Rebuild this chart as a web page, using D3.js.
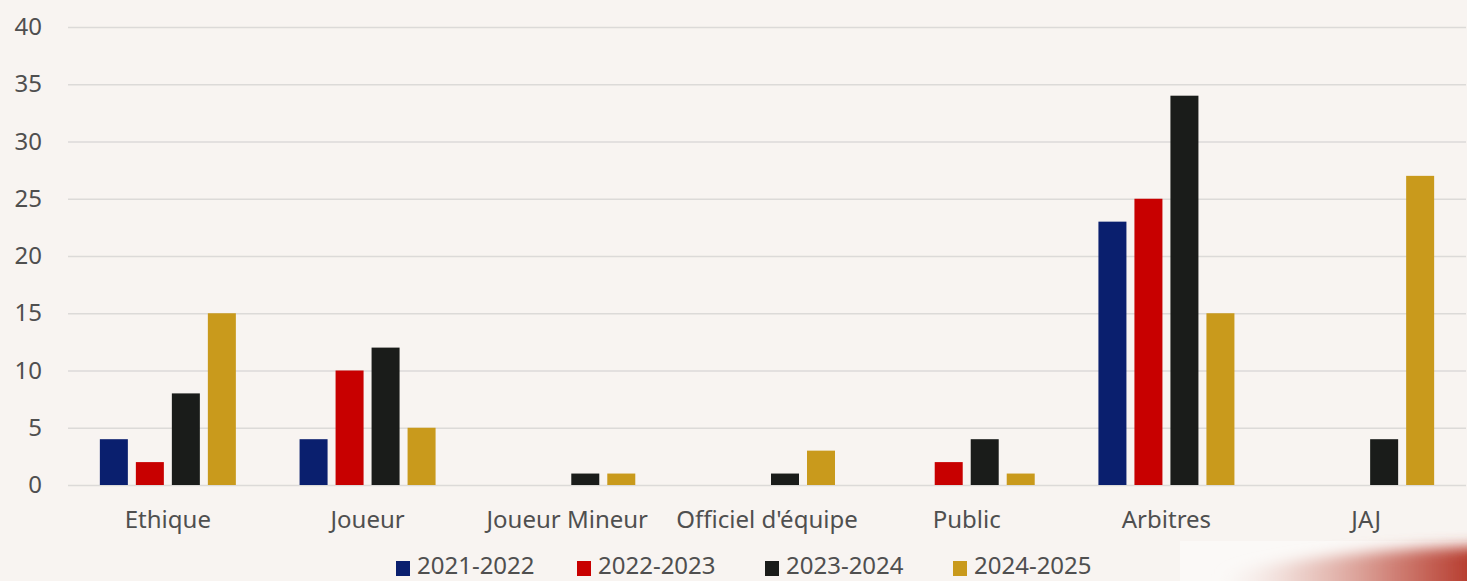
<!DOCTYPE html>
<html>
<head>
<meta charset="utf-8">
<script src="https://cdn.jsdelivr.net/npm/d3@7"></script>
<style>
  body { margin: 0; background: #f8f4f1; }
  svg { display: block; font-family: "Noto Sans", "Open Sans", sans-serif; }
</style>
</head>
<body>
<svg id="chart" width="1467" height="581"></svg>
<script>
// Chart data
const categories = ['Ethique', 'Joueur', 'Joueur Mineur', "Officiel d'équipe", 'Public', 'Arbitres', 'JAJ'];
const seasons = ['2021-2022', '2022-2023', '2023-2024', '2024-2025'];
const values2122 = [4, 4, 0, 0, 0, 23, 0];
const values2223 = [2, 10, 0, 0, 2, 25, 0];
const values2324 = [8, 12, 1, 1, 4, 34, 4];
const values2425 = [15, 5, 1, 3, 1, 15, 27];
const yTicks = [0, 5, 10, 15, 20, 25, 30, 35, 40];

const seriesValues = [values2122, values2223, values2324, values2425];
const colors = ['#0a1f6e', '#c80000', '#1a1c1a', '#c99a1c'];

const width = 1467;
const height = 581;
const plot = { left: 68, right: 1466, top: 27, bottom: 485 };
const textColor = '#4f4f4f';

const svg = d3.select('#chart');

// Background with the red smear bottom right
const defs = svg.append('defs');
defs.append('filter').attr('id', 'blur')
  .attr('x', '-20%').attr('y', '-50%').attr('width', '140%').attr('height', '200%')
  .append('feGaussianBlur').attr('stdDeviation', 7);
const lg = defs.append('linearGradient').attr('id', 'fade')
  .attr('x1', '0').attr('x2', '1').attr('y1', '0').attr('y2', '0');
lg.append('stop').attr('offset', '0').attr('stop-color', '#f2e2de').attr('stop-opacity', 0);
lg.append('stop').attr('offset', '0.3').attr('stop-color', '#e8c4bd').attr('stop-opacity', 0.8);
lg.append('stop').attr('offset', '0.65').attr('stop-color', '#cf7f74').attr('stop-opacity', 1);
lg.append('stop').attr('offset', '1').attr('stop-color', '#b02a1c').attr('stop-opacity', 1);

svg.append('rect').attr('width', width).attr('height', height).attr('fill', '#f8f4f1');
svg.append('rect')
  .attr('x', 1180).attr('y', 541).attr('width', 287).attr('height', 40)
  .attr('fill', '#fbf9f7');
svg.append('path')
  .attr('d', 'M1220,600 L1220,575 C1280,560 1380,548 1490,546 L1490,600 Z')
  .attr('fill', 'url(#fade)')
  .attr('filter', 'url(#blur)');

// Scales
const x0 = d3.scaleBand()
  .domain(categories)
  .range([plot.left, plot.right]);
const x1 = d3.scaleBand()
  .domain(d3.range(seasons.length))
  .range([0, 136])
  .paddingInner(8 / 36);
const y = d3.scaleLinear()
  .domain([0, 40])
  .range([plot.bottom, plot.top]);

// Grid lines + y labels
const yAxis = svg.append('g')
  .attr('transform', `translate(${plot.left},0)`)
  .call(d3.axisLeft(y).tickValues(yTicks).tickSize(-(plot.right - plot.left)).tickPadding(26));
yAxis.select('.domain').remove();
yAxis.selectAll('.tick line').attr('stroke', '#dcdad8').attr('stroke-width', 1.5);
yAxis.selectAll('.tick text')
  .attr('fill', textColor)
  .attr('font-size', 24)
  .attr('font-family', '"Noto Sans", sans-serif');

// Bars
const groups = svg.append('g').selectAll('g')
  .data(categories)
  .join('g')
  .attr('transform', d => `translate(${x0(d) + x0.bandwidth() / 2 - 68},0)`);

groups.selectAll('rect')
  .data((d, i) => seriesValues.map((s, k) => ({ k, v: s[i] })).filter(e => e.v > 0))
  .join('rect')
  .attr('x', d => x1(d.k))
  .attr('width', x1.bandwidth())
  .attr('y', d => y(d.v))
  .attr('height', d => y(0) - y(d.v))
  .attr('fill', d => colors[d.k]);

// Category labels
const xAxis = svg.append('g')
  .attr('transform', `translate(0,${plot.bottom})`)
  .call(d3.axisBottom(x0).tickSize(0).tickPadding(26));
xAxis.select('.domain').remove();
xAxis.selectAll('.tick text')
  .attr('fill', textColor)
  .attr('font-size', 24)
  .attr('font-family', '"Noto Sans", sans-serif');

// Legend
const legendX = [396, 577, 765, 953];
const legend = svg.append('g').selectAll('g')
  .data(seasons)
  .join('g')
  .attr('transform', (d, i) => `translate(${legendX[i]},0)`);
legend.append('rect')
  .attr('x', 0).attr('y', 561).attr('width', 14).attr('height', 15)
  .attr('fill', (d, i) => colors[i]);
legend.append('text')
  .attr('x', 21).attr('y', 574)
  .attr('fill', textColor)
  .attr('font-size', 24)
  .text(d => d);
</script>
</body>
</html>
